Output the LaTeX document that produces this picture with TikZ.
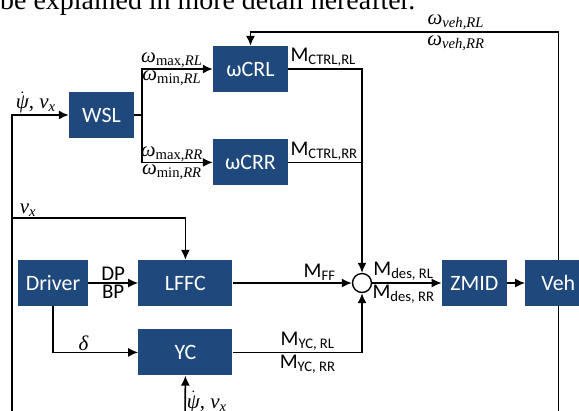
\documentclass[tikz,border=0pt]{standalone}
\usepackage{fontspec}
\setmainfont{Liberation Serif}
\newfontfamily\boxfont{Carlito}
\usetikzlibrary{arrows.meta, positioning}
\definecolor{blockblue}{RGB}{31,73,125}
\newcommand{\iv}[1]{\textit{#1}}
\tikzset{
  block/.style={rectangle, fill=blockblue, text=white, minimum height=46bp,
                inner sep=0pt, font=\boxfont\fontsize{22}{26}\selectfont},
  arrow/.style={-{Latex[length=10bp,width=9bp]}, line width=1.6bp},
  wire/.style={line width=1.6bp},
  sumpt/.style={circle, draw, line width=1.4bp, fill=white,
                minimum size=19bp, inner sep=0pt},
  sig/.style={font=\boxfont\fontsize{21}{25}\selectfont, inner sep=1.5bp},
  msig/.style={font=\fontsize{21}{25}\selectfont, inner sep=1bp},
}

\begin{document}
\begin{tikzpicture}[x=1bp, y=-1bp, node distance=23bp and 50bp]
  \useasboundingbox (0,0) rectangle (579,410);
  \clip (0,0) rectangle (579,410);
  \node[anchor=base west, inner sep=0pt, font=\fontsize{28}{32}\selectfont] (intro) at (0,9) {be explained in more detail hereafter.};
  % blocks
  \node[block, minimum width=65bp] (wsl) at (101.5,115) {WSL};
  \node[block, minimum width=75bp] (wcrl) at (250.5,69) {ωCRL};
  \node[block, minimum width=75bp, below=47bp of wcrl] (wcrr) {ωCRR};
  \node[block, minimum width=70bp] (driver) at (53,283) {Driver};
  \node[block, minimum width=94bp, right=50bp of driver] (lffc) {LFFC};
  \node[block, minimum width=94bp, below=of lffc] (yc) {YC};
  \node[sumpt] (sum) at (362,283) {};
  \node[block, minimum width=65bp, right=69.5bp of sum] (zmid) {ZMID};
  \node[block, minimum width=66bp, right=18bp of zmid] (veh) {Veh};
  % loose ends of the feedback loops
  \coordinate (fbtop) at (557,32);
  \coordinate (fbbot) at (12,425);
  \coordinate (vxsplit) at (12,218);
  \coordinate (ycin) at (185,425);
  % feedback
  \draw[arrow] (veh.north) |- (fbtop) -| node[pos=0.165, above, msig]{\iv{ω}\textsubscript{\iv{veh,RL}}}
                                          node[pos=0.165, below, msig, inner sep=3bp]{\iv{ω}\textsubscript{\iv{veh,RR}}} (wcrl.north);
  \draw[arrow] (veh.south) |- (fbbot) |- node[pos=0.71, above, msig]{$\dot{\mbox{\itshape ψ}}$, \iv{v}\textsubscript{\iv{x}}} (wsl.west);
  \draw[arrow] (vxsplit) -| node[pos=0, above right, msig, xshift=6bp]{\iv{v}\textsubscript{\iv{x}}} (lffc.north);
  \draw[arrow] (ycin) -- node[pos=0.46, right, msig]{$\dot{\mbox{\itshape ψ}}$, \iv{v}\textsubscript{\iv{x}}} (yc.south);
  % wheel slip limits
  \draw[arrow] (wsl.east) -- ++(8,0) |- node[pos=0.71, above, msig, inner sep=0pt]{\iv{ω}\textsubscript{max,\iv{RL}}}
                                         node[pos=0.71, below, msig]{\iv{ω}\textsubscript{min,\iv{RL}}} (wcrl.west);
  \draw[arrow] (wsl.east) -- ++(8,0) |- node[pos=0.71, above, msig, inner sep=0pt]{\iv{ω}\textsubscript{max,\iv{RR}}}
                                         node[pos=0.71, below, msig]{\iv{ω}\textsubscript{min,\iv{RR}}} (wcrr.west);
  % moments into the sum
  \draw[arrow] (wcrl.east) -| node[pos=0, anchor=south west, sig]{M\textsubscript{CTRL,RL}} (sum.north);
  \draw[wire] (wcrr.east) -- node[pos=0, anchor=south west, sig]{M\textsubscript{CTRL,RR}} (wcrr.east -| sum.north);
  \draw[arrow] (driver.east) -- node[above, sig]{DP} node[below, sig]{BP} (lffc.west);
  \draw[arrow] (driver.south) |- node[pos=0.68, above, msig]{\iv{δ}} (yc.west);
  \draw[arrow] (lffc.east) -- node[pos=0.73, above, sig]{M\textsubscript{FF}} (sum.west);
  \draw[arrow] (yc.east) -| node[pos=0.29, above, sig]{M\textsubscript{YC, RL}}
                            node[pos=0.29, below, sig]{M\textsubscript{YC, RR}} (sum.south);
  \draw[arrow] (sum.east) -- node[pos=0.45, above, sig]{M\textsubscript{des, RL}}
                             node[pos=0.45, below, sig]{M\textsubscript{des, RR}} (zmid.west);
  \draw[arrow] (zmid.east) -- (veh.west);
\end{tikzpicture}
\end{document}
